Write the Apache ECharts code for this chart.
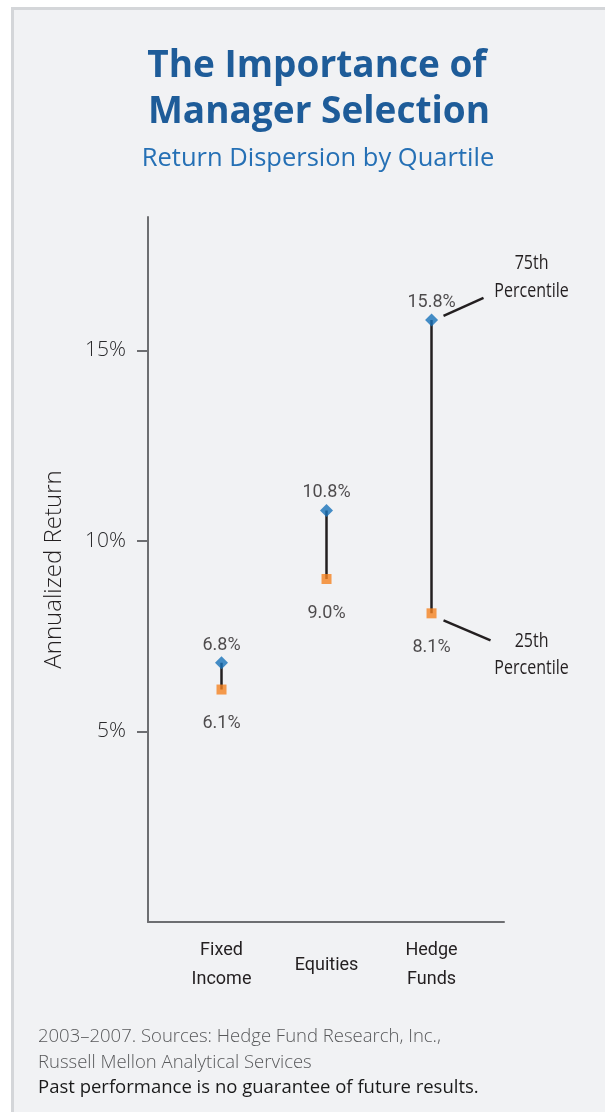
<!DOCTYPE html>
<html>
<head>
<meta charset="utf-8">
<script src="https://cdn.jsdelivr.net/npm/echarts@6/dist/echarts.min.js"></script>
<style>
  html, body { margin: 0; padding: 0; background: #ffffff; }
  #panel { position: absolute; left: 11px; top: 7px; width: 600px; height: 1110px;
           background: #f1f2f4; border-left: 3px solid #d4d6d9; border-top: 3px solid #d4d6d9; }
  #chart { position: absolute; left: 0; top: 0; width: 605px; height: 1112px; }
</style>
</head>
<body>
<div id="panel"></div>
<div id="chart"></div>
<script>
// Quartile returns per asset class (annualized, %)
const categories = ['Fixed\nIncome', 'Equities', 'Hedge\nFunds'];
const percentile75 = [6.8, 10.8, 15.8];
const percentile25 = [6.1, 9.0, 8.1];
const yTickValues = [5, 10, 15];

const narrow = "Roboto, 'Liberation Sans', sans-serif";
const sans = "'Open Sans', 'Noto Sans', sans-serif";
const ink = '#231f20';
const axisGray = '#6d6e71';

// category positions on the value-type x axis: 1, 2, 3
const xPos = categories.map((c, i) => i + 1);

const chart = echarts.init(document.getElementById('chart'), null, { renderer: 'canvas' });

const option = {
  backgroundColor: 'transparent',
  animation: false,
  grid: { left: 148, right: 101, top: 217, bottom: 190, containLabel: false },
  xAxis: {
    type: 'value',
    min: 0.3,
    max: 3.69,
    splitLine: { show: false },
    axisTick: { show: false },
    axisLine: { show: true, onZero: false, lineStyle: { color: axisGray, width: 2 } },
    axisLabel: {
      customValues: xPos,
      formatter: v => categories[Math.round(v) - 1] || '',
      margin: 43,
      verticalAlign: 'middle',
      color: ink,
      fontFamily: narrow,
      fontSize: 18,
      lineHeight: 29
    }
  },
  yAxis: {
    type: 'value',
    min: 0,
    max: 18.5,
    interval: 5,
    name: 'Annualized Return',
    nameLocation: 'middle',
    nameGap: 82,
    nameTextStyle: { color: ink, fontFamily: sans, fontWeight: 300, fontSize: 24 },
    splitLine: { show: false },
    axisLine: { show: true, lineStyle: { color: axisGray, width: 2 } },
    axisTick: { show: true, customValues: yTickValues, length: 11, lineStyle: { color: axisGray, width: 2 } },
    axisLabel: {
      customValues: yTickValues,
      formatter: v => v + '%',
      margin: 22,
      color: '#2a2a2c',
      fontFamily: sans,
      fontWeight: 300,
      fontSize: 21
    }
  },
  series: [
    {
      // vertical spread between the 25th and 75th percentile
      type: 'lines',
      coordinateSystem: 'cartesian2d',
      z: 1,
      lineStyle: { color: ink, width: 2.5, opacity: 1 },
      data: xPos.map((x, i) => ({ coords: [[x, percentile25[i]], [x, percentile75[i]]] }))
    },
    {
      name: '75th Percentile',
      type: 'scatter',
      z: 3,
      symbol: 'diamond',
      symbolSize: 13,
      itemStyle: { color: '#1872b9' },
      label: {
        show: true, position: 'top', distance: 2,
        formatter: p => p.value[1].toFixed(1) + '%',
        color: ink, fontFamily: narrow, fontSize: 18
      },
      data: xPos.map((x, i) => [x, percentile75[i]])
    },
    {
      name: '25th Percentile',
      type: 'scatter',
      z: 3,
      symbol: 'rect',
      symbolSize: 10,
      itemStyle: { color: '#f58220' },
      label: {
        show: true, position: 'bottom', distance: 20,
        formatter: p => p.value[1].toFixed(1) + '%',
        color: ink, fontFamily: narrow, fontSize: 18
      },
      data: xPos.map((x, i) => [x, percentile25[i]])
    }
  ]
};

chart.setOption(option);

// Headline, source notes and the percentile call-outs on the last column
const last = xPos.length - 1;
const hi = chart.convertToPixel({ gridIndex: 0 }, [xPos[last], percentile75[last]]);
const lo = chart.convertToPixel({ gridIndex: 0 }, [xPos[last], percentile25[last]]);

function txt(text, x, y, font, color, align, scaleX) {
  return {
    type: 'text', x: x, y: y, silent: true, scaleX: scaleX || 1,
    style: { text: text, font: font, fill: color, align: align || 'center', verticalAlign: 'middle' }
  };
}
function seg(x1, y1, x2, y2) {
  return { type: 'line', silent: true, shape: { x1, y1, x2, y2 }, style: { stroke: ink, lineWidth: 2.5 } };
}

const calloutFont = '20px ' + sans;
const condensed = 0.8;
chart.setOption({
  graphic: [
    txt('The Importance of', 317, 66, 'bold 37px ' + sans, '#1e5c99'),
    txt('Manager Selection', 319, 112, 'bold 37px ' + sans, '#1e5c99'),
    txt('Return Dispersion by Quartile', 318, 159, '25.5px ' + sans, '#2570b5'),

    seg(hi[0] + 12, hi[1] - 4, hi[0] + 52, hi[1] - 22),
    txt('75th', hi[0] + 100, hi[1] - 57, calloutFont, ink, 'center', condensed),
    txt('Percentile', hi[0] + 100, hi[1] - 29, calloutFont, ink, 'center', condensed),

    seg(lo[0] + 12, lo[1] + 7, lo[0] + 59, lo[1] + 27),
    txt('25th', lo[0] + 100, lo[1] + 28, calloutFont, ink, 'center', condensed),
    txt('Percentile', lo[0] + 100, lo[1] + 55, calloutFont, ink, 'center', condensed),

    txt('2003\u20132007. Sources: Hedge Fund Research, Inc.,', 38, 1037, '300 18.5px ' + sans, '#58595b', 'left'),
    txt('Russell Mellon Analytical Services', 38, 1063, '300 18.5px ' + sans, '#58595b', 'left'),
    txt('Past performance is no guarantee of future results.', 38, 1088, '18.5px ' + sans, '#1a1a1a', 'left')
  ]
});
</script>
</body>
</html>
